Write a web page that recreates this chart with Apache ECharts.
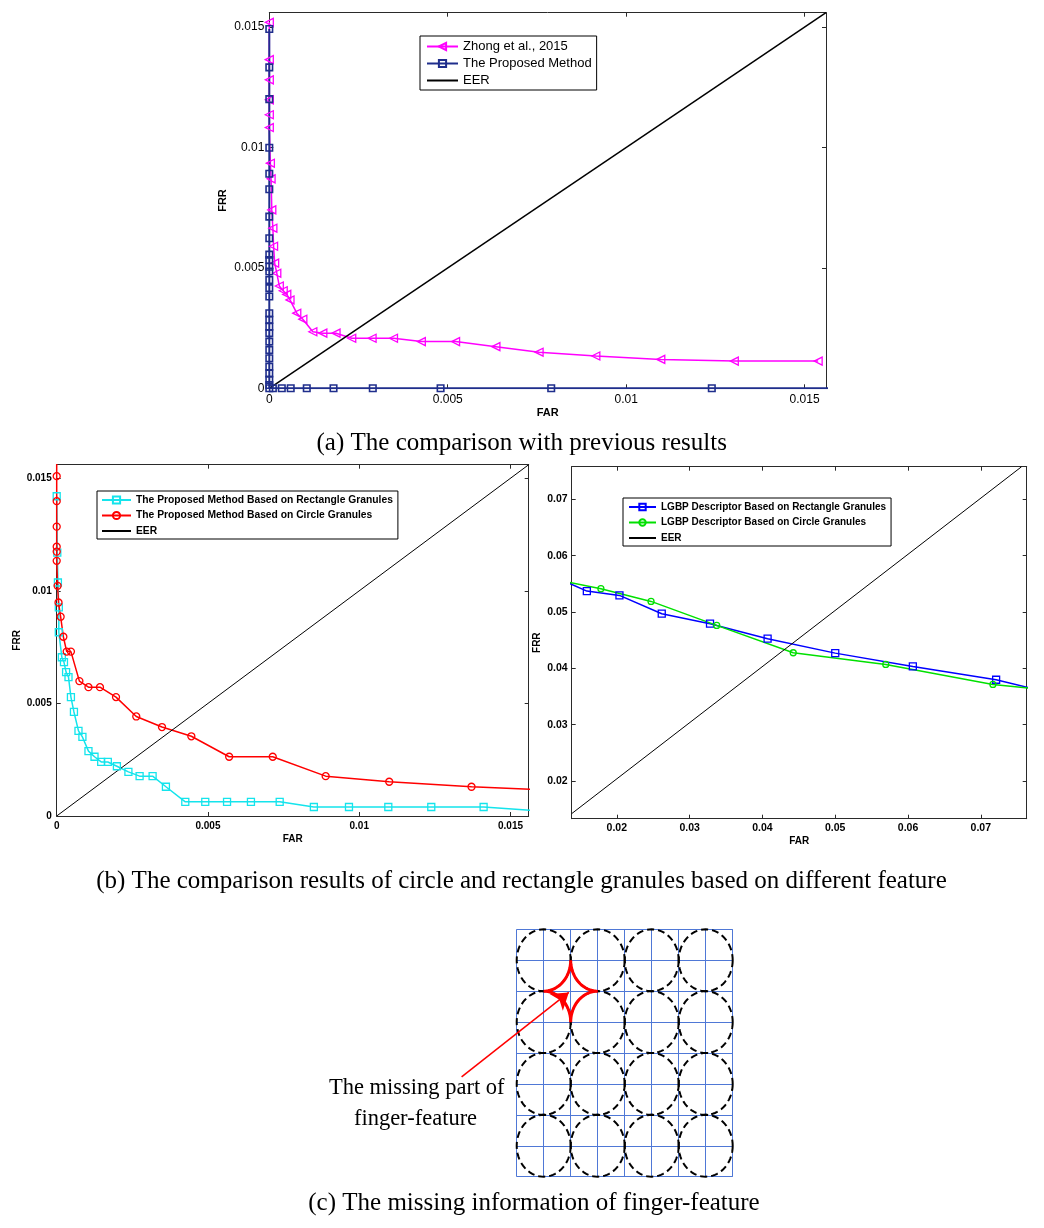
<!DOCTYPE html>
<html><head><meta charset="utf-8">
<script src="https://cdn.jsdelivr.net/npm/echarts@6/dist/echarts.min.js"></script>
<style>html,body{margin:0;padding:0;background:#fff}#c{width:1044px;height:1228px}</style>
</head><body><div id="c"></div>
<script>
// ---------- DATA ----------
// (a) comparison with previous results  [FAR, FRR]
const zhong2015 = [
 [0,0.0152],[0,0.01365],[0,0.01281],[0,0.01198],[0,0.01136],[0,0.01083],
 [0.00003,0.00935],[0.00005,0.0087],[0.00007,0.00741],[0.0001,0.00665],[0.00012,0.0059],
 [0.00015,0.0052],[0.00021,0.00478],[0.00028,0.00425],[0.00039,0.00405],[0.00049,0.0039],
 [0.00058,0.00367],[0.00077,0.00312],[0.00094,0.00287],[0.00122,0.00235],[0.0015,0.00229],
 [0.00187,0.00229],[0.00231,0.00208],[0.00288,0.00208],[0.00348,0.00208],[0.00426,0.00194],
 [0.00522,0.00194],[0.00635,0.00173],[0.00756,0.0015],[0.00915,0.00134],[0.01097,0.0012],
 [0.01303,0.00113],[0.01538,0.00113]
];
const proposedA = [
 [0,0.01492],[0,0.01333],[0,0.01201],[0,0.00999],[0,0.00891],[0,0.00827],[0,0.00713],
 [0,0.00623],[0,0.00555],[0,0.00533],[0,0.00505],[0,0.00485],[0,0.0045],[0,0.00416],
 [0,0.00381],[0,0.00312],[0,0.00284],[0,0.00256],[0,0.00229],[0,0.00194],[0,0.00159],
 [0,0.00125],[0,0.0009],[0,0.00062],[0,0.00035],[0,0.00014],[0,0],
 [0.0001,0],[0.00035,0],[0.0006,0],[0.00105,0],[0.0018,0],[0.0029,0],[0.0048,0],
 [0.0079,0],[0.0124,0],[0.0165,0]
];
const eerA = [[0,0],[0.0156,0.0156]];
// (b) left: rectangle vs circle granules
const rectGranules = [
 [0,0.0142],[0.00002,0.0117],[0.00004,0.01037],[0.00007,0.00926],[0.00007,0.00816],
 [0.00017,0.00705],[0.00024,0.00683],[0.00031,0.00639],[0.00039,0.00617],[0.00047,0.00528],
 [0.00057,0.00462],[0.00072,0.00378],[0.00085,0.00351],[0.00105,0.00288],[0.00125,0.00263],
 [0.00147,0.0024],[0.00169,0.0024],[0.00199,0.00221],[0.00237,0.00196],[0.00274,0.00177],
 [0.00317,0.00177],[0.00361,0.0013],[0.00425,0.00063],[0.00491,0.00063],[0.00563,0.00063],
 [0.00642,0.00063],[0.00737,0.00063],[0.0085,0.0004],[0.00966,0.0004],[0.01096,0.0004],
 [0.01238,0.0004],[0.01411,0.0004],[0.0163,0.0002]
];
const circleGranules = [
 [0,0.0165],[0,0.01509],[0,0.01398],[0,0.01285],[0,0.01196],[0,0.01174],[0,0.01133],
 [0.00003,0.01022],[0.00006,0.00948],[0.00013,0.00885],[0.00022,0.00796],[0.00033,0.0073],
 [0.00047,0.0073],[0.00075,0.00599],[0.00105,0.00572],[0.00143,0.00572],[0.00196,0.00528],
 [0.00263,0.00442],[0.00348,0.00395],[0.00445,0.00354],[0.0057,0.00263],[0.00714,0.00263],
 [0.00889,0.00177],[0.01099,0.00152],[0.01371,0.0013],[0.0163,0.00115]
];
const eerB1 = [[0,0],[0.0156,0.0156]];
// (b) right: LGBP descriptor
const lgbpRect = [
 [0.013,0.05536],[0.01588,0.05371],[0.02036,0.05295],[0.02617,0.0497],[0.0328,0.04792],
 [0.04071,0.04526],[0.05,0.0427],[0.06066,0.04034],[0.0721,0.03797],[0.078,0.03614]
];
const lgbpCircle = [
 [0.013,0.0554],[0.01781,0.05414],[0.0247,0.05188],[0.03372,0.04762],[0.04423,0.04277],
 [0.05694,0.04069],[0.07166,0.03714],[0.078,0.03633]
];
const eerB2 = [[0.0138,0.0142],[0.0756,0.0758]];
// axis ranges / tick labels
const rangeA = {min:0, max:0.0156, step:0.005};
const rangeB1 = {min:0, max:0.0156, step:0.005};
const rangeB2x = {min:0.0138, max:0.0763, step:0.01};
const rangeB2y = {min:0.0133, max:0.0758, step:0.01};
// (c) diagram: 8x8 grid, circle centres, star centre, arrow
const gridRange = {min:0, max:8, step:1};
const circleCenters = [
 [1,1],[3,1],[5,1],[7,1],[1,3],[3,3],[5,3],[7,3],
 [1,5],[3,5],[5,5],[7,5],[1,7],[3,7],[5,7],[7,7]
];
const starCenter = [[2,2]];
const arrowPath = [[-2.04,4.77],[1.93,2.04]];
const captions = [
 '(a) The comparison with previous results',
 '(b) The comparison results of circle and rectangle granules based on different feature',
 '(c) The missing information of finger-feature'
];
const noteLines = ['The missing part of', 'finger-feature'];

// ---------- OPTION ----------
const SANS = "'Liberation Sans', Arial, sans-serif";
const SERIF = "'Liberation Serif', 'Times New Roman', serif";
const AX = '#2a2a2a';

function xAxes(gi, r, lab, nameGap, nameSize, showMin){
  const c = {gridIndex:gi, type:'value', min:r.min, max:r.max, splitLine:{show:false},
    axisLine:{onZero:false, lineStyle:{color:AX, width:1}},
    axisTick:{inside:true, length:4, lineStyle:{color:AX}}};
  if (r.min % r.step === 0) c.interval = r.step; else { c.minInterval = r.step; c.maxInterval = r.step; }
  return [
    Object.assign({}, c, {position:'bottom', name:'FAR', nameLocation:'middle', nameGap:nameGap,
      nameMoveOverlap:false,
      nameTextStyle:{fontFamily:SANS, fontWeight:'bold', fontSize:nameSize, color:'#000'},
      axisLabel:Object.assign({fontFamily:SANS, color:'#000', showMinLabel:showMin, showMaxLabel:false}, lab)}),
    Object.assign({}, c, {position:'top', axisLabel:{show:false}})
  ];
}
function yAxes(gi, r, lab, nameGap, nameSize, showMin){
  const c = {gridIndex:gi, type:'value', min:r.min, max:r.max, splitLine:{show:false},
    axisLine:{onZero:false, lineStyle:{color:AX, width:1}},
    axisTick:{inside:true, length:4, lineStyle:{color:AX}}};
  if (r.min % r.step === 0) c.interval = r.step; else { c.minInterval = r.step; c.maxInterval = r.step; }
  return [
    Object.assign({}, c, {position:'left', name:'FRR', nameLocation:'middle', nameGap:nameGap,
      nameMoveOverlap:false,
      nameTextStyle:{fontFamily:SANS, fontWeight:'bold', fontSize:nameSize, color:'#000'},
      axisLabel:Object.assign({fontFamily:SANS, color:'#000', showMinLabel:showMin, showMaxLabel:false}, lab)}),
    Object.assign({}, c, {position:'right', axisLabel:{show:false}})
  ];
}

const labA = {fontSize:12, margin:5};
const labB1 = {fontSize:10, fontWeight:'bold', margin:5};
const labB2 = {fontSize:10.5, fontWeight:'bold', margin:4};

const xAxis = [].concat(
  xAxes(0, rangeA, labA, 19, 11, true),
  xAxes(1, rangeB1, labB1, 18, 10, true),
  xAxes(2, rangeB2x, labB2, 18, 10, false),
  [{gridIndex:3, type:'value', min:gridRange.min, max:gridRange.max, interval:gridRange.step,
    axisLine:{show:false}, axisTick:{show:false}, axisLabel:{show:false},
    splitLine:{show:true, lineStyle:{color:'#4f78d6', width:1}}}]
);
const yAxis = [].concat(
  yAxes(0, rangeA, labA, 41, 11, true),
  yAxes(1, rangeB1, labB1, 34, 10, true),
  yAxes(2, rangeB2y, labB2, 29, 10, false),
  [{gridIndex:3, type:'value', inverse:true, min:gridRange.min, max:gridRange.max, interval:gridRange.step,
    axisLine:{show:false}, axisTick:{show:false}, axisLabel:{show:false},
    splitLine:{show:true, lineStyle:{color:'#4f78d6', width:1}}}]
);

function lineSeries(name, data, xi, color, width, symbol, size, extra){
  return Object.assign({
    name:name, type:'line', data:data, xAxisIndex:xi, yAxisIndex:xi,
    symbol:symbol, symbolSize:size, showSymbol: symbol !== 'none',
    lineStyle:{color:color, width:width},
    itemStyle:{color:'rgba(0,0,0,0)', borderColor:color, borderWidth:1.3},
    emphasis:{disabled:true}, clip:true, z:2
  }, extra || {});
}

function ellipsePoints(api, cx, cy, a0, a1, n){
  const pts = [];
  for (let k = 0; k <= n; k++){
    const t = a0 + (a1 - a0) * k / n;
    pts.push(api.coord([cx + Math.cos(t), cy + Math.sin(t)]));
  }
  return pts;
}

const series = [
  lineSeries('Zhong et al., 2015', zhong2015, 0, '#ff00ff', 1.5, 'triangle', 8, {symbolRotate:90}),
  lineSeries('The Proposed Method', proposedA, 0, '#1f2e8c', 2, 'rect', 6.5, {itemStyle:{color:'rgba(0,0,0,0)', borderColor:'#1f2e8c', borderWidth:1.6}}),
  lineSeries('EER (a)', eerA, 0, '#000', 1.5, 'none', 0),

  lineSeries('The Proposed Method Based on Rectangle Granules', rectGranules, 2, '#14e4ec', 1.5, 'rect', 7),
  lineSeries('The Proposed Method Based on Circle Granules', circleGranules, 2, '#ff0000', 1.5, 'circle', 7),
  lineSeries('EER (b1)', eerB1, 2, '#000', 1, 'none', 0),

  lineSeries('LGBP Descriptor Based on Rectangle Granules', lgbpRect, 4, '#0000ff', 1.5, 'rect', 7),
  lineSeries('LGBP Descriptor Based on Circle Granules', lgbpCircle, 4, '#00e000', 1.5, 'circle', 6),
  lineSeries('EER (b2)', eerB2, 4, '#000', 1, 'none', 0),

  {type:'custom', name:'circles', xAxisIndex:6, yAxisIndex:6, data:circleCenters, silent:true,
   renderItem:function(params, api){
     const pts = ellipsePoints(api, api.value(0), api.value(1), 0, Math.PI*2, 72);
     return {type:'polygon', shape:{points:pts},
       style:{fill:null, stroke:'#000', lineWidth:2, lineDash:[7,4]}};
   }},
  {type:'custom', name:'star', xAxisIndex:6, yAxisIndex:6, data:starCenter, silent:true, z:4,
   renderItem:function(params, api){
     const cx = api.value(0), cy = api.value(1);
     const arcs = [
       [cx+1, cy-1, Math.PI, Math.PI/2],
       [cx+1, cy+1, 1.5*Math.PI, Math.PI],
       [cx-1, cy+1, 2*Math.PI, 1.5*Math.PI],
       [cx-1, cy-1, Math.PI/2, 0]
     ];
     let pts = [];
     arcs.forEach(a => { pts = pts.concat(ellipsePoints(api, a[0], a[1], a[2], a[3], 20)); });
     return {type:'polygon', shape:{points:pts},
       style:{fill:null, stroke:'#ff0000', lineWidth:3, lineJoin:'miter'}};
   }},
  {type:'lines', name:'arrow', coordinateSystem:'cartesian2d', xAxisIndex:6, yAxisIndex:6,
   data:[{coords:arrowPath}], symbol:['none','arrow'], symbolSize:16, clip:false, silent:true, z:5,
   lineStyle:{color:'#ff0000', width:1.5, opacity:1}}
];

const hide = {color:'rgba(0,0,0,0)', borderColor:'rgba(0,0,0,0)'};
const fmt = n => n.indexOf('EER') === 0 ? 'EER' : n;
const legend = [
  {left:420, top:36, orient:'vertical', selectedMode:false, formatter:fmt,
   data:['Zhong et al., 2015','The Proposed Method',{name:'EER (a)', itemStyle:hide}],
   backgroundColor:'#fff', borderColor:'#000', borderWidth:1, padding:[4,5,3,6],
   itemGap:4, itemWidth:31, itemHeight:9,
   textStyle:{fontFamily:SANS, fontSize:13, color:'#000'}},
  {left:97, top:491, orient:'vertical', selectedMode:false, formatter:fmt,
   data:['The Proposed Method Based on Rectangle Granules','The Proposed Method Based on Circle Granules',{name:'EER (b1)', itemStyle:hide}],
   backgroundColor:'#fff', borderColor:'#000', borderWidth:1, padding:[4,5,3,4],
   itemGap:5.5, itemWidth:29, itemHeight:9,
   textStyle:{fontFamily:SANS, fontSize:10.3, fontWeight:'bold', color:'#000'}},
  {left:623, top:498, orient:'vertical', selectedMode:false, formatter:fmt,
   data:['LGBP Descriptor Based on Rectangle Granules','LGBP Descriptor Based on Circle Granules',{name:'EER (b2)', itemStyle:hide}],
   backgroundColor:'#fff', borderColor:'#000', borderWidth:1, padding:[4,5,3,5],
   itemGap:5.5, itemWidth:27, itemHeight:8,
   textStyle:{fontFamily:SANS, fontSize:10, fontWeight:'bold', color:'#000'}}
];

function txt(x, y, s, font){
  return {type:'text', x:x, y:y, silent:true,
    style:{text:s, font:font, fill:'#000', textAlign:'center', textVerticalAlign:'middle'}};
}

const option = {
  animation:false,
  backgroundColor:'#fff',
  textStyle:{fontFamily:SANS},
  grid:[
    {left:269.3, top:12.7, width:556.7, height:375.6, outerBoundsMode:'none'},
    {left:56.7, top:464.7, width:472, height:351.3, outerBoundsMode:'none'},
    {left:571.7, top:466.7, width:455, height:352, outerBoundsMode:'none'},
    {left:516.7, top:929.3, width:216, height:247.4, outerBoundsMode:'none'}
  ],
  xAxis:xAxis, yAxis:yAxis, legend:legend, series:series,
  graphic:{elements:[
    txt(521.7, 443, captions[0], '25px ' + SERIF),
    txt(521.5, 881, captions[1], '25px ' + SERIF),
    txt(534, 1203, captions[2], '25px ' + SERIF),
    txt(416.7, 1088, noteLines[0], '22.5px ' + SERIF),
    txt(415.5, 1119, noteLines[1], '22.5px ' + SERIF)
  ]}
};
const chart = echarts.init(document.getElementById('c'), null, {renderer:'canvas'});
chart.setOption(option);
</script></body></html>
